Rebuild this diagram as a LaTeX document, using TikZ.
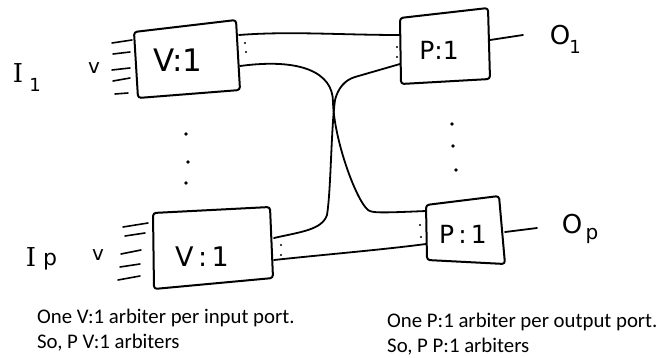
\documentclass[tikz,border=0pt]{standalone}
\usepackage{fontspec}
\setmainfont{Carlito}
\newfontfamily\handfont{DejaVu Sans}
\newfontfamily\handserif{DejaVu Serif}
\begin{document}
\begin{tikzpicture}[x=1pt,y=-1pt,
  pen/.style={line width=2pt,line cap=round,line join=round},
  boxline/.style={pen,rounded corners=3pt},
  wire/.style={line width=1.8pt,line cap=round},
  stub/.style={line width=1.6pt,line cap=round},
  hand/.style={inner sep=0pt,font=\handfont},
  note/.style={anchor=base west,inner sep=0pt,font=\fontsize{20.8}{25}\selectfont},
  bigdot/.style={fill=black,circle,inner sep=0pt,minimum size=3.6pt},
  smalldot/.style={fill=black,circle,inner sep=0pt,minimum size=2.4pt}]
\useasboundingbox (0,0) rectangle (658,358);

% ---- V1 box
\coordinate (v1tl) at (134,32); \coordinate (v1tr) at (236,20);
\coordinate (v1br) at (240,90); \coordinate (v1bl) at (138,98);
\draw[boxline] (v1tl) -- (v1tr) -- (v1br) -- (v1bl) -- cycle;
\node[hand,font=\handfont\fontsize{31}{31}\selectfont] (v1lab) at (178,60) {V:1};
% ---- Vp box
\coordinate (vptl) at (153,213); \coordinate (vptr) at (270,207);
\coordinate (vpbr) at (273,278); \coordinate (vpbl) at (154,289);
\draw[boxline] (vptl) -- (vptr) -- (vpbr) -- (vpbl) -- cycle;
\node[hand,font=\handfont\fontsize{27}{27}\selectfont] (vplab) at (202,257) {V\,:\,1};
% ---- P1 box
\coordinate (p1tl) at (400,18); \coordinate (p1tr) at (488,8);
\coordinate (p1br) at (490,79); \coordinate (p1bl) at (401,84);
\draw[boxline] (p1tl) -- (p1tr) -- (p1br) -- (p1bl) -- cycle;
\node[hand,font=\handfont\fontsize{25}{25}\selectfont] (p1lab) at (439,50) {P:1};
% ---- Pp box
\coordinate (pptl) at (426,205); \coordinate (pptr) at (499,196);
\coordinate (ppbr) at (505,264); \coordinate (ppbl) at (427,260);
\draw[boxline] (pptl) -- (pptr) -- (ppbr) -- (ppbl) -- cycle;
\node[hand,font=\handfont\fontsize{25}{25}\selectfont] (pplab) at (463,234) {P\,:\,1};

% ---- connector endpoints
\coordinate (v1o1) at (239,35); \coordinate (v1o2) at (240,66);
\coordinate (vpo1) at (274,238); \coordinate (vpo2) at (274,260);
\coordinate (p1i1) at (400,35); \coordinate (p1i2) at (400,64);
\coordinate (ppi1) at (426,211); \coordinate (ppi2) at (426,244);
\coordinate (p1o) at (490,40); \coordinate (p1out) at (523,35);
\coordinate (ppo) at (505,232); \coordinate (ppout) at (537,228);

\draw[wire] (v1o1) .. controls (290,31) and (340,35) .. (p1i1);
\draw[wire] (v1o2) .. controls (300,58) and (333,72) .. (333,102)
  .. controls (334,140) and (356,200) .. (368,210) .. controls (372,213) and (380,213) .. (ppi1);
\draw[wire] (vpo1) .. controls (300,232) and (322,230) .. (327,215)
  .. controls (331,190) and (331,130) .. (335,100) .. controls (338,88) and (345,80) .. (355,77) -- (p1i2);
\draw[wire] (vpo2) .. controls (330,254) and (380,250) .. (ppi2);
\draw[wire] (p1o) -- (p1out);
\draw[wire] (ppo) -- (ppout);

% ---- input stubs
\foreach \ya/\yb/\xa/\xb in {43/40/112/132, 54/52/113/130, 70/68/112/130, 81/78/113/130, 94/93/115/128}
  \draw[stub] (\xa,\ya) -- (\xb,\yb);
\foreach \ya/\yb/\xa/\xb in {227/223/123/148, 236/233/125/145, 254/250/121/141, 267/264/120/140, 280/276/118/140}
  \draw[stub] (\xa,\ya) -- (\xb,\yb);

% ---- small colons
\node[smalldot] (d1) at (245,43) {}; \node[smalldot] (d2) at (246,52) {};
\node[smalldot] (d3) at (281,245) {}; \node[smalldot] (d4) at (281,255) {};
\node[smalldot] (d5) at (397,47) {}; \node[smalldot] (d6) at (397,57) {};
\node[smalldot] (d7) at (420,225) {}; \node[smalldot] (d8) at (421,237) {};
% ---- vertical ellipses
\node[bigdot] (e1) at (186,134) {}; \node[bigdot] (e2) at (188,162) {}; \node[bigdot] (e3) at (186,183) {};
\node[bigdot] (e4) at (452,124) {}; \node[bigdot] (e5) at (453,146) {}; \node[bigdot] (e6) at (456,170) {};

% ---- handwritten labels
\node[hand,font=\handserif\fontsize{26}{26}\selectfont] (i1) at (18,73) {I};
\node[hand,font=\handfont\fontsize{18}{18}\selectfont] (i1s) at (35,85) {1};
\node[hand,font=\handfont\fontsize{20}{20}\selectfont] (v1v) at (94,68) {v};
\node[hand,font=\handserif\fontsize{26}{26}\selectfont] (ip) at (31,257) {I};
\node[hand,font=\handfont\fontsize{22}{22}\selectfont] (ips) at (50,262) {p};
\node[hand,font=\handfont\fontsize{20}{20}\selectfont] (vpv) at (98,255) {v};
\node[hand,font=\handfont\fontsize{26}{26}\selectfont] (o1) at (560,35) {O};
\node[hand,font=\handfont\fontsize{18}{18}\selectfont] (o1s) at (575,47) {1};
\node[hand,font=\handfont\fontsize{26}{26}\selectfont] (op) at (572,224) {O};
\node[hand,font=\handfont\fontsize{20}{20}\selectfont] (ops) at (592,236) {p};

% ---- notes
\node[note] (n1) at (37,323) {One V:1 arbiter per input port.};
\node[note] (n2) at (37,348) {So, P V:1 arbiters};
\node[note] (n3) at (387,327) {One P:1 arbiter per output port.};
\node[note] (n4) at (387,352) {So, P P:1 arbiters};
\end{tikzpicture}
\end{document}
